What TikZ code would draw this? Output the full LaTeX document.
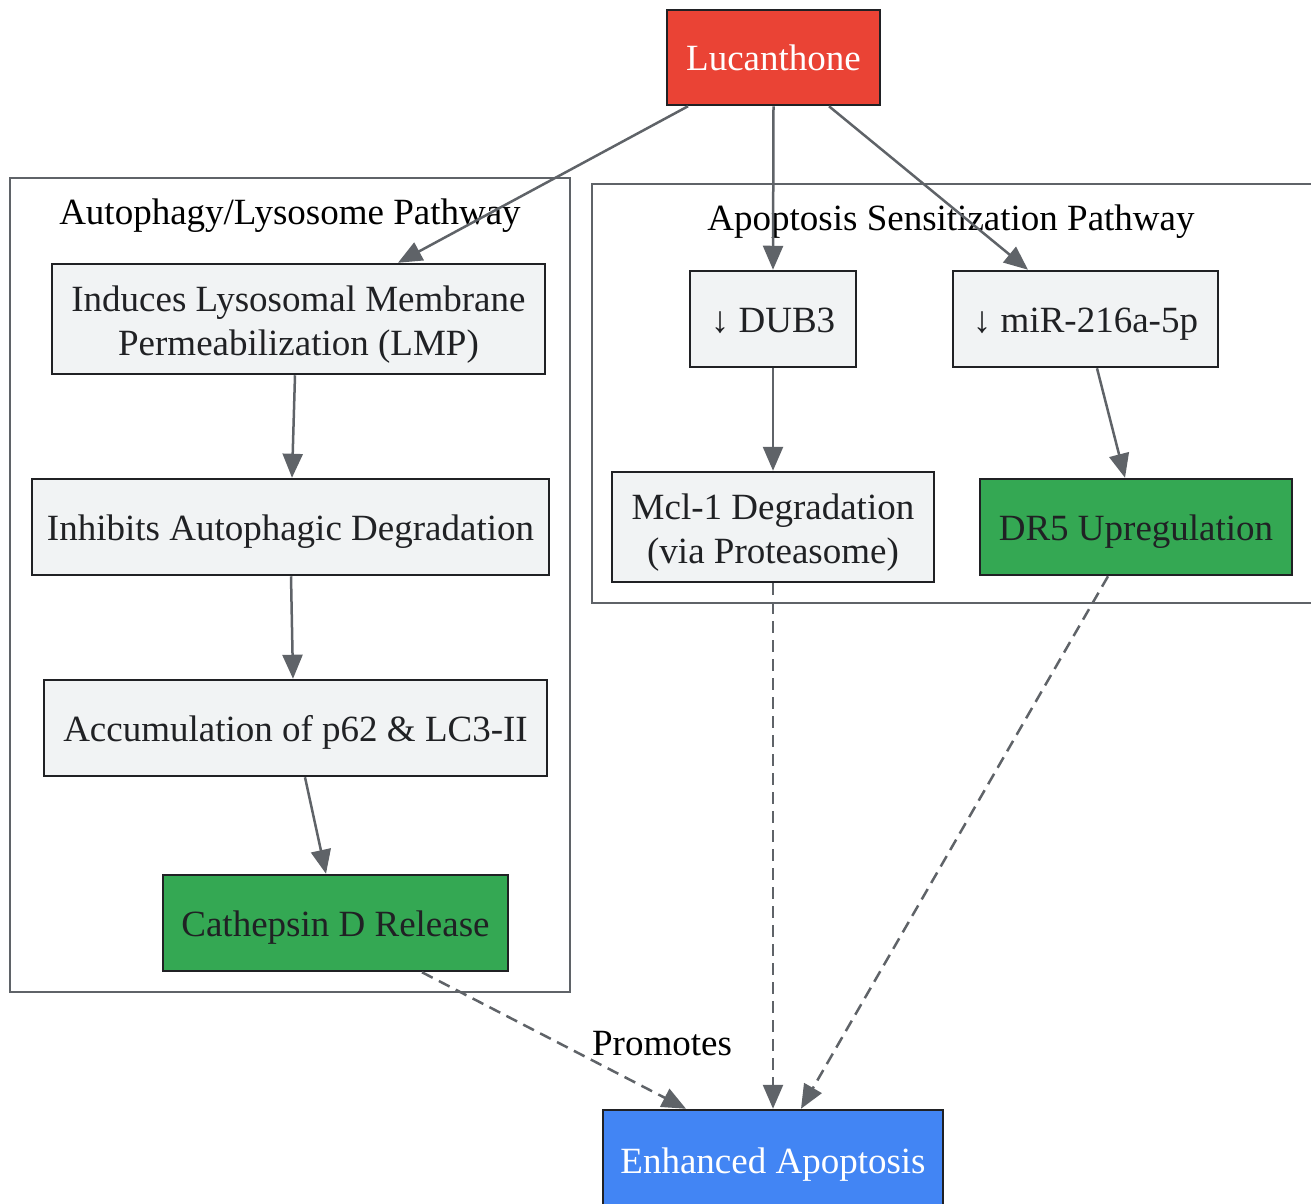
\documentclass[tikz,border=0pt]{standalone}
\usepackage{fontspec}
\setmainfont{Liberation Serif}
\usetikzlibrary{arrows.meta, positioning}
\definecolor{lucred}{HTML}{EA4335}
\definecolor{okgreen}{HTML}{34A853}
\definecolor{apopblue}{HTML}{4285F4}
\definecolor{boxgray}{HTML}{F1F3F4}
\definecolor{inkdark}{HTML}{202124}
\definecolor{edgegray}{HTML}{5F6368}
\begin{document}
\begin{tikzpicture}[x=1pt, y=-1pt,
    every node/.style={font=\fontsize{37}{44}\selectfont, inner sep=0pt, align=center,
        text height=26pt, text depth=0pt},
    twoline/.style={text height=72pt, text depth=0pt},
    stepbox/.style={draw=inkdark, line width=2.5pt, fill=boxgray, text=inkdark},
    greenbox/.style={stepbox, fill=okgreen},
    cluster/.style={draw=edgegray, line width=2pt},
    link/.style={draw=edgegray, line width=2.5pt, -{Triangle[length=24pt, width=20pt]}},
    weak/.style={link, dashed, dash pattern=on 12pt off 7pt}]
    \useasboundingbox (0,0) rectangle (1311,1203);

    % clusters
    \draw[cluster] (10,178) rectangle (570,992);
    \node at (290,211) {Autophagy/Lysosome Pathway};
    \draw[cluster] (592,184) rectangle (1320,603);
    \node at (951,217) {Apoptosis Sensitization Pathway};

    % nodes
    \node[draw=inkdark, line width=2.5pt, fill=lucred, text=white, minimum width=213pt, minimum height=95pt] (luc) at (773.5,57.5) {Lucanthone};
    \node[stepbox, twoline, minimum width=493pt, minimum height=110pt] (lmp) at (298.5,319) {Induces Lysosomal Membrane\\Permeabilization (LMP)};
    \node[stepbox, minimum width=517pt, minimum height=96pt] (inhib) at (290.5,527) {Inhibits Autophagic Degradation};
    \node[stepbox, minimum width=503pt, minimum height=96pt] (accum) at (295.5,728) {Accumulation of p62 \& LC3-II};
    \node[greenbox, minimum width=345pt, minimum height=96pt] (cath) at (335.5,923) {Cathepsin D Release};
    \node[stepbox, minimum width=166pt, minimum height=96pt] (dub) at (773,319) {↓ DUB3};
    \node[stepbox, minimum width=265pt, minimum height=96pt] (mir) at (1085.5,319) {↓ miR-216a-5p};
    \node[stepbox, twoline, minimum width=322pt, minimum height=110pt] (mcl) at (773,527) {Mcl-1 Degradation\\(via Proteasome)};
    \node[greenbox, minimum width=312pt, minimum height=96pt] (dr) at (1136,527) {DR5 Upregulation};
    \node[draw=inkdark, line width=2.5pt, fill=apopblue, text=white, minimum width=340pt, minimum height=100pt] (apop) at (773,1160) {Enhanced Apoptosis};

    % edges
    \draw[link] ([xshift=-85.5pt]luc.south) -- ([xshift=99.5pt]lmp.north);
    \draw[link] (luc.south) -- (dub.north);
    \draw[link] ([xshift=55.5pt]luc.south) -- ([xshift=-57.5pt]mir.north);
    \draw[link] ([xshift=-3.5pt]lmp.south) -- ([xshift=1.5pt]inhib.north);
    \draw[link] ([xshift=0.5pt]inhib.south) -- ([xshift=-2.5pt]accum.north);
    \draw[link] ([xshift=9.5pt]accum.south) -- ([xshift=-9.5pt]cath.north);
    \draw[link] (dub.south) -- (mcl.north);
    \draw[link] ([xshift=11.5pt]mir.south) -- ([xshift=-11pt]dr.north);
    \draw[weak] ([xshift=86.5pt]cath.south) -- ([xshift=-87pt]apop.north)
        node[pos=0.5, xshift=108pt, yshift=-2pt, text=black] {Promotes};
    \draw[weak] (mcl.south) -- (apop.north);
    \draw[weak] ([xshift=-28pt]dr.south) -- ([xshift=28pt]apop.north);
\end{tikzpicture}
\end{document}
